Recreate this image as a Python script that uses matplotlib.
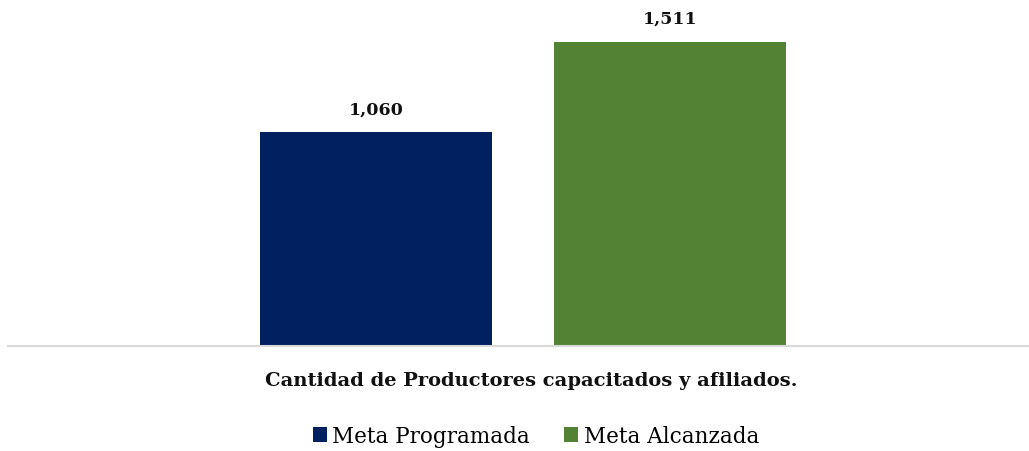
import matplotlib
matplotlib.use("Agg")
import matplotlib.pyplot as plt
from matplotlib.patches import Patch

series = ["Meta Programada", "Meta Alcanzada"]
values = [1060, 1511]
colors = ["#002060", "#548235"]
title = "Cantidad de Productores capacitados y afiliados."

plt.rcParams['font.family'] = ['DejaVu Serif']

fig = plt.figure(figsize=(10.29, 4.52), dpi=100)
ax = fig.add_axes([8/1029, 105/452, 1021/1029, 347/452])
x = list(range(len(values)))
bars = ax.bar(x, values, width=0.79, color=colors)
for xi, v in zip(x, values):
    ax.annotate(f"{v:,}", (xi, v), xytext=(0, 10.5), textcoords="offset points",
                ha="center", va="bottom", fontsize=12.5, fontweight="bold", color="#111111")
ax.set_xlim(-1.252, 2.221)
ax.set_ylim(0, 1722)
for s in ["top", "right", "left"]:
    ax.spines[s].set_visible(False)
ax.spines["bottom"].set_color("#d9d9d9")
ax.spines["bottom"].set_linewidth(1.5)
ax.set_xticks([])
ax.set_yticks([])

fig.text(531/1029, 1 - 381/452, title, ha="center", va="center",
         fontsize=14, fontweight="bold", color="#111111")
handles = [Patch(facecolor=c, label=s) for c, s in zip(colors, series)]
fig.legend(handles=handles, loc="center", bbox_to_anchor=(536/1029, 1 - 437/452),
           ncol=2, frameon=False, fontsize=15.5, handlelength=0.65, handleheight=0.7,
           handletextpad=0.25, columnspacing=1.6)
fig.savefig("out.png", dpi=100)
